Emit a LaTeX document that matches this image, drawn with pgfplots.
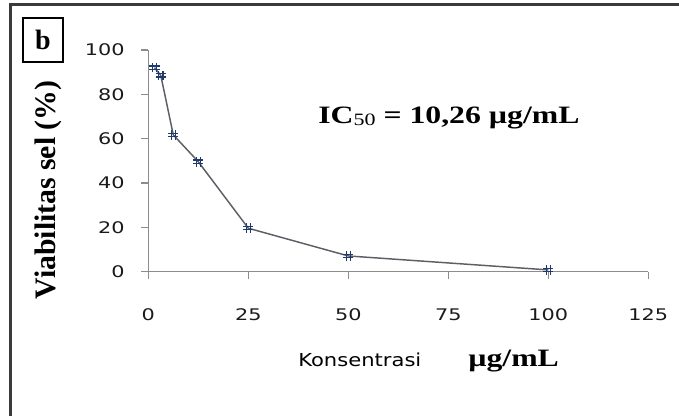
\documentclass[border=0pt]{standalone}
\usepackage{pgfplots}
\pgfplotsset{compat=1.18}
\usepackage{fontspec}
\setmainfont{Liberation Serif}
\newfontfamily\tickfont[FakeStretch=1.3]{DejaVu Sans}
\newfontfamily\konfont[FakeStretch=1.18]{DejaVu Sans}
\newfontfamily\widefont[FakeStretch=1.27]{Liberation Serif}

\definecolor{framegray}{HTML}{3A3A3A}
\definecolor{axisgray}{HTML}{8C8C8C}
\definecolor{linegray}{HTML}{5E5E66}
\definecolor{marknavy}{HTML}{1F3A6E}
\definecolor{ticktext}{HTML}{1A1A1A}

% "#"-shaped marker like the spreadsheet's error-bar crosses
\pgfdeclareplotmark{hash}{%
  \pgfpathmoveto{\pgfqpoint{-1.6pt}{-3.6pt}}\pgfpathlineto{\pgfqpoint{-1.6pt}{3.6pt}}
  \pgfpathmoveto{\pgfqpoint{1.6pt}{-3.6pt}}\pgfpathlineto{\pgfqpoint{1.6pt}{3.6pt}}
  \pgfpathmoveto{\pgfqpoint{-3.8pt}{-1.2pt}}\pgfpathlineto{\pgfqpoint{3.8pt}{-1.2pt}}
  \pgfpathmoveto{\pgfqpoint{-3.8pt}{1.2pt}}\pgfpathlineto{\pgfqpoint{3.8pt}{1.2pt}}
  \pgfusepathqstroke}

\begin{document}
\begin{tikzpicture}[x=0.75pt, y=0.75pt]
  \useasboundingbox (0,0) rectangle (679,416);
  % outer frame, only top and left edges are visible
  \draw[framegray, line width=1.6pt] (10.5,0) -- (10.5,411.5) -- (679,411.5);

  % panel letter
  \draw[black, line width=0.9pt] (23,354) rectangle (63,398);
  \node[anchor=base, font=\fontsize{21}{22}\selectfont\bfseries] at (43,366) {b};

  \begin{axis}[
    at={(111.225pt,108.225pt)}, anchor=origin,
    scale only axis, width=375pt, height=166.3pt,
    xmin=0, xmax=125, ymin=0, ymax=100,
    axis x line=bottom, axis y line=left,
    axis line style={-, axisgray, line width=1.1pt},
    xtick={0,25,50,75,100,125},
    ytick={0,20,40,60,80,100},
    tick align=outside,
    major tick length=5.3pt,
    tick style={axisgray, line width=1pt},
    /pgf/number format/assume math mode=true,
    every x tick label/.append style={font=\tickfont\fontsize{12}{13}\selectfont, text=ticktext, yshift=-19pt},
    every y tick label/.append style={font=\tickfont\fontsize{12}{13}\selectfont, text=ticktext, xshift=-9pt},
    clip=false,
  ]
    \addplot[
      linegray, line width=1.1pt,
      mark=hash, mark options={marknavy, line width=0.95pt, solid},
    ] coordinates {
      (1.5625,92.0)
      (3.125,88.5)
      (6.25,61.7)
      (12.5,49.6)
      (25,19.6)
      (50,7.1)
      (100,0.8)
    };
  \end{axis}

  % IC50 annotation
  \node[anchor=base west, inner sep=0pt, font=\widefont\fontsize{18.75}{20}\selectfont\bfseries]
    at (318,292.7) {IC{\mdseries\fontsize{13}{14}\selectfont\raisebox{-1.5pt}{50}} = 10,26 µg/mL};

  % axis titles
  \node[rotate=90, font=\fontsize{22.3}{24}\selectfont\bfseries] at (48,226) {Viabilitas sel (\%)};
  \node[anchor=base west, inner sep=0pt, font=\konfont\fontsize{13.4}{14}\selectfont, text=black]
    at (298,49) {Konsentrasi};
  \node[anchor=base west, inner sep=0pt, font=\widefont\fontsize{18.75}{20}\selectfont\bfseries]
    at (468,49) {µg/mL};
\end{tikzpicture}
\end{document}
